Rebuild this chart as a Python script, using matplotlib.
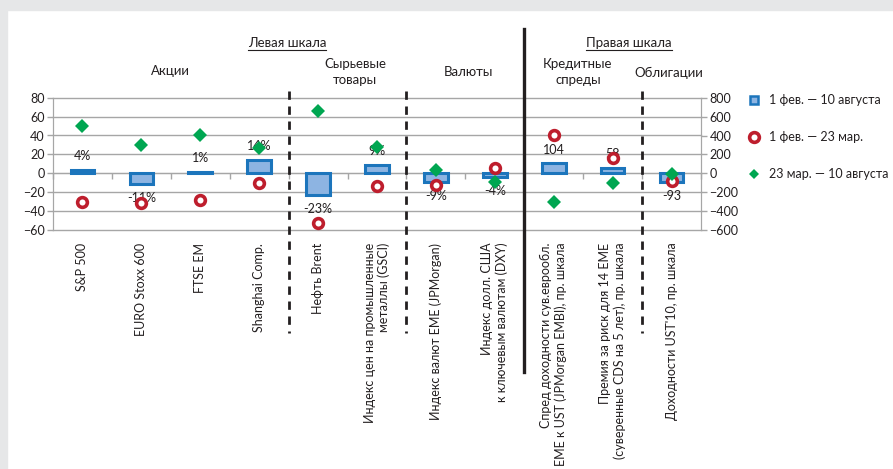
import matplotlib
matplotlib.use("Agg")
import matplotlib.pyplot as plt
import matplotlib.transforms as mtransforms
from matplotlib.lines import Line2D
from matplotlib.patches import Rectangle
import numpy as np

plt.rcParams['font.family'] = ['Lato', 'Open Sans', 'DejaVu Sans']

# ---- data ----
categories = [
    "S&P 500",
    "EURO Stoxx 600",
    "FTSE EM",
    "Shanghai Comp.",
    "Нефть Brent",
    "Индекс цен на промышленные\nметаллы (GSCI)",
    "Индекс валют EME (JPMorgan)",
    "Индекс долл. США\nк ключевым валютам (DXY)",
    "Спред доходности сув.еврообл.\nEME к UST (JPMorgan EMBI), пр. шкала",
    "Премия за риск для 14 EME\n(суверенные CDS на 5 лет), пр. шкала",
    "Доходности UST'10, пр. шкала",
]
# left scale (%): first 8 categories; right scale (b.p.): last 3
left_bar = [4, -11, 1, 14, -23, 9, -9, -4]
left_circ = [-30, -31, -28, -10, -53, -13, -12, 6]
left_diam = [50, 30, 41, 27, 66, 28, 3, -9]
right_bar = [104, 58, -93]
right_circ = [405, 165, -80]
right_diam = [-300, -100, -8]
left_labels = ["4%", "-11%", "1%", "14%", "-23%", "9%", "-9%", "-4%"]
right_labels = ["104", "58", "-93"]
series_names = ["1 фев. — 10 августа", "1 фев. — 23 мар.", "23 мар. — 10 августа"]

left_ticks = [-60, -40, -20, 0, 20, 40, 60, 80]
right_ticks = [-600, -400, -200, 0, 200, 400, 600, 800]

BAR_FACE = "#8DB4E2"
BAR_EDGE = "#1C75BC"
RED = "#BE1E2D"
GREEN = "#00A651"
GRID = "#A6A6A6"
TXT = "#231F20"
FS = 9

W, H = 893, 469
fig = plt.figure(figsize=(W / 100, H / 100), dpi=100)
fig.patches.append(Rectangle((0, 0), 7 / W, 1, transform=fig.transFigure, color="#E6E7E8", zorder=0))
fig.patches.append(Rectangle((0, 1 - 10 / H), 1, 10 / H, transform=fig.transFigure, color="#E6E7E8", zorder=0))

ax_l, ax_r, ax_b, ax_t = 53 / W, 701 / W, 1 - 230 / H, 1 - 97.7 / H
ax = fig.add_axes([ax_l, ax_b, ax_r - ax_l, ax_t - ax_b])
ax2 = ax.twinx()

n = len(categories)
xl = np.arange(len(left_bar))
xr = np.arange(len(left_bar), n)

ax.set_xlim(-0.5, n - 0.5)
ax.set_ylim(-60, 80)
ax2.set_ylim(-600, 800)

# grid
ax.set_yticks(left_ticks)
ax2.set_yticks(right_ticks)
for yv in left_ticks:
    ax.axhline(yv, color=GRID, lw=1.0, zorder=1, clip_on=False)
fmt = matplotlib.ticker.FuncFormatter(lambda v, p: f"{int(v)}".replace("-", "−"))
ax.yaxis.set_major_formatter(fmt)
ax2.yaxis.set_major_formatter(fmt)
ax.tick_params(axis='y', length=4, width=1, color=GRID, labelsize=FS, labelcolor=TXT, pad=2)
ax2.tick_params(axis='y', length=4, width=1, color=GRID, labelsize=FS, labelcolor=TXT, pad=2)

for a in (ax, ax2):
    a.spines["top"].set_visible(False)
    a.spines["left"].set_color(GRID)
    a.spines["right"].set_color(GRID)
    a.spines["bottom"].set_visible(False)
ax.spines["bottom"].set_visible(True)
ax.spines["bottom"].set_position(("data", 0))
ax.spines["bottom"].set_color(GRID)

# x ticks: labels at centres, marks at boundaries
ax.set_xticks(np.arange(n))
ax.set_xticklabels(categories, rotation=90, fontsize=FS, color=TXT, ha="center", va="top",
                   multialignment="right")
ax.set_xticks(np.arange(-0.5, n, 1.0), minor=True)
ax.tick_params(axis='x', which='major', length=0, pad=50)
ax.tick_params(axis='x', which='minor', length=4, width=1, color=GRID)

bw = 0.40
# bars
ax.bar(xl, left_bar, width=bw, color=BAR_FACE, edgecolor=BAR_EDGE, linewidth=2.2, zorder=3)
ax2.bar(xr, right_bar, width=bw, color=BAR_FACE, edgecolor=BAR_EDGE, linewidth=2.2, zorder=3)

# labels
for x, v, t in zip(xl, left_bar, left_labels):
    ax.annotate(t, (x, v), xytext=(0, 10 if v >= 0 else -10), textcoords="offset points",
                ha="center", va="center", fontsize=FS, color=TXT, zorder=4)
for x, v, t in zip(xr, right_bar, right_labels):
    ax2.annotate(t, (x, v), xytext=(0, 10 if v >= 0 else -10), textcoords="offset points",
                 ha="center", va="center", fontsize=FS, color=TXT, zorder=4)

# markers
mk_c = dict(marker="o", ls="none", ms=7, mfc="white", mec=RED, mew=2.6, zorder=5)
mk_d = dict(marker="D", ls="none", ms=7.5, mfc=GREEN, mec=GREEN, mew=0, zorder=6)
ax.plot(xl, left_circ, **mk_c)
ax.plot(xl, left_diam, **mk_d)
ax2.plot(xr, right_circ, **mk_c)
ax2.plot(xr, right_diam, **mk_d)

# dividers
def px_to_axes_y(py):
    return (230 - py) / (230 - 97.7)

trans = mtransforms.blended_transform_factory(ax.transData, ax.transAxes)
for xd in (3.5, 5.5, 9.5):
    ax.add_line(Line2D([xd, xd], [px_to_axes_y(91), px_to_axes_y(333)], transform=trans,
                       color="#231F20", lw=2, ls=(0, (3, 2.4)), clip_on=False, zorder=7))
ax.add_line(Line2D([7.5, 7.5], [px_to_axes_y(29), px_to_axes_y(372)], transform=trans,
                   color="#231F20", lw=2.4, clip_on=False, zorder=7))

# group headers
def ftext(px, py, s, **kw):
    return fig.text(px / W, 1 - py / H, s, ha="center", va="center", fontsize=FS + 0.5, color=TXT,
                    linespacing=1.45, **kw)

h1 = ftext(287, 43, "Левая шкала")
h2 = ftext(629, 43, "Правая шкала")
ftext(170, 71, "Акции")
ftext(355, 72, "Сырьевые\nтовары")
ftext(468, 72, "Валюты")
ftext(578, 72, "Кредитные\nспреды")
ftext(669, 73, "Облигации")

fig.canvas.draw()
r = fig.canvas.get_renderer()
for h in (h1, h2):
    bb = h.get_window_extent(r)
    yy = bb.y0 - 1
    fig.add_artist(Line2D([bb.x0 / W, bb.x1 / W], [yy / H, yy / H], transform=fig.transFigure,
                          color=TXT, lw=0.8))

# legend
handles = [
    Line2D([], [], marker="s", ls="none", ms=6, mfc=BAR_FACE, mec=BAR_EDGE, mew=1.8),
    Line2D([], [], marker="o", ls="none", ms=7, mfc="white", mec=RED, mew=2.6),
    Line2D([], [], marker="D", ls="none", ms=5, mfc=GREEN, mec=GREEN, mew=0),
]
fig.legend(handles, series_names, loc="upper left", bbox_to_anchor=(748 / W, 1 - 94 / H),
           frameon=False, fontsize=FS, labelspacing=2.0, handlelength=1.0, handletextpad=0.7,
           labelcolor=TXT, borderaxespad=0, borderpad=0)

fig.savefig("out.png", dpi=100)
